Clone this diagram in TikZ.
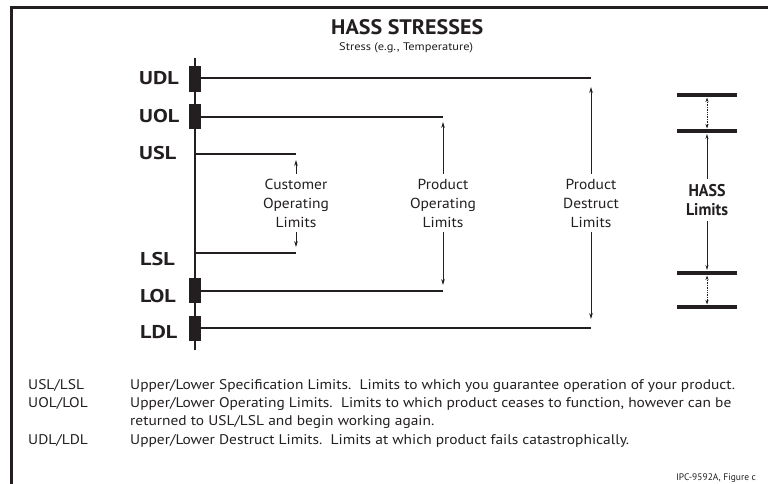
\documentclass[tikz,border=0pt]{standalone}
\usepackage{fontspec}
\usepackage{graphicx}
\setmainfont{PT Sans}
\usetikzlibrary{arrows.meta}
\definecolor{ink}{HTML}{231F20}
\newlength\fitlen
\newcommand\hsc[2]{\scalebox{#1}[1]{#2}}
\newcommand\titlefont{\bfseries\fontsize{21}{24}\selectfont}
\newcommand\subfont{\fontsize{11}{13}\selectfont}
\newcommand\footfont{\fontsize{14}{17}\selectfont}
\newcommand\midfont{\fontsize{14.5}{19}\selectfont}
\newcommand\sidefont{\bfseries\fontsize{18.5}{20}\selectfont}
\newcommand\hassfont{\bfseries\fontsize{17}{19}\selectfont}
\newcommand\measurefac[3]{\settowidth\fitlen{#3}\pgfmathsetmacro#1{#2/\fitlen}\global\let#1#1}
\begin{document}
\measurefac{\titfac}{152}{\titlefont HASS STRESSES}%
\measurefac{\subfac}{134}{\subfont Stress (e.g., Temperature)}%
\measurefac{\footfac}{605}{\footfont Upper/Lower Specification Limits.\ \ Limits to which you guarantee operation of your product.}%
\measurefac{\midfac}{66}{\midfont Operating}%
\measurefac{\sidefac}{37}{\sidefont LDL}%
\measurefac{\hassfac}{42}{\hassfont Limits}%
\begin{tikzpicture}[x=1pt,y=-1pt,
  every node/.style={text=ink, inner sep=0pt},
  frameline/.style={draw=ink, line width=3pt},
  axisline/.style={draw=ink, line width=2.6pt},
  limitline/.style={draw=ink, line width=2.6pt},
  blockbox/.style={fill=ink, draw=none, minimum width=12pt, minimum height=25pt},
  sidelabel/.style={font=\sidefont, anchor=base west},
  midlabel/.style={font=\midfont, align=center, inner ysep=5pt},
  hasslabel/.style={font=\hassfont, align=center, inner ysep=5pt},
  thinarrow/.style={draw=ink, line width=0.9pt, -{Stealth[length=6pt,width=3.6pt]}},
  hassarrow/.style={draw=ink, line width=0.7pt, -{Stealth[length=5pt,width=3pt]}},
  dotarrow/.style={draw=ink, line width=0.7pt, densely dotted, {Stealth[length=4.5pt,width=3pt]}-{Stealth[length=4.5pt,width=3pt]}},
  hassbar/.style={draw=ink, line width=3.5pt},
  foot/.style={font=\footfont, anchor=base west}]
\useasboundingbox (0,0) rectangle (768,483);
\fill[white] (0,0) rectangle (768,483);

% frame
\coordinate (fTL) at (11.3,7.7);
\coordinate (fTR) at (770,7.7);
\coordinate (fBL) at (11.3,486);
\draw[frameline] (fBL) -- (fTL) -- (fTR);

% title
\node[font=\titlefont, anchor=base west] (title) at (331,34) {\hsc{\titfac}{HASS STRESSES}};
\node[font=\subfont, anchor=base west] (subtitle) at (339,50) {\hsc{\subfac}{Stress (e.g., Temperature)}};

% axis
\coordinate (axTop) at (195,58);
\coordinate (axBot) at (195,350);
\draw[axisline] (axTop) -- (axBot);

% blocks
\node[blockbox, minimum height=26pt] (bUDL) at (195,79) {};
\node[blockbox] (bUOL) at (195,116.5) {};
\node[blockbox] (bLOL) at (195,290.5) {};
\node[blockbox] (bLDL) at (195,328.5) {};

% line ends
\coordinate (udlE) at (591,78);
\coordinate (uolE) at (443,117);
\coordinate (uslS) at (195,154);
\coordinate (uslE) at (296,154);
\coordinate (lslS) at (195,253);
\coordinate (lslE) at (296,253);
\coordinate (lolE) at (443,291);
\coordinate (ldlE) at (591,328);

\draw[limitline] (bUDL.east |- udlE) -- (udlE);
\draw[limitline] (bUOL.east |- uolE) -- (uolE);
\draw[limitline] (uslS) -- (uslE);
\draw[limitline] (lslS) -- (lslE);
\draw[limitline] (bLOL.east |- lolE) -- (lolE);
\draw[limitline] (bLDL.east |- ldlE) -- (ldlE);

% side labels
\node[sidelabel] (tUDL) at (139,84) {\hsc{\sidefac}{UDL}};
\node[sidelabel] (tUOL) at (139,122) {\hsc{\sidefac}{UOL}};
\node[sidelabel] (tUSL) at (139,159) {\hsc{\sidefac}{USL}};
\node[sidelabel] (tLSL) at (140,265) {\hsc{\sidefac}{LSL}};
\node[sidelabel] (tLOL) at (140,302) {\hsc{\sidefac}{LOL}};
\node[sidelabel] (tLDL) at (140,338) {\hsc{\sidefac}{LDL}};

% middle labels
\node[midlabel] (cust) at (296,203) {\hsc{\midfac}{Customer}\\\hsc{\midfac}{Operating}\\\hsc{\midfac}{Limits}};
\node[midlabel] (pop) at (443,203) {\hsc{\midfac}{Product}\\\hsc{\midfac}{Operating}\\\hsc{\midfac}{Limits}};
\node[midlabel] (pdl) at (591,203) {\hsc{\midfac}{Product}\\\hsc{\midfac}{Destruct}\\\hsc{\midfac}{Limits}};

\draw[thinarrow] (cust.north) -- ([yshift=-6pt]uslE);
\draw[thinarrow] (cust.south) -- ([yshift=6pt]lslE);
\draw[thinarrow] (pop.north) -- ([yshift=-5pt]uolE);
\draw[thinarrow] (pop.south) -- ([yshift=6pt]lolE);
\draw[thinarrow] (pdl.north) -- ([yshift=-9pt]udlE);
\draw[thinarrow] (pdl.south) -- ([yshift=9pt]ldlE);

% HASS limits
\coordinate (h1L) at (677,95);  \coordinate (h1R) at (737,95);
\coordinate (h2L) at (677,131); \coordinate (h2R) at (737,131);
\coordinate (h3L) at (677,273); \coordinate (h3R) at (737,273);
\coordinate (h4L) at (677,307); \coordinate (h4R) at (737,307);
\draw[hassbar] (h1L) -- (h1R);
\draw[hassbar] (h2L) -- (h2R);
\draw[hassbar] (h3L) -- (h3R);
\draw[hassbar] (h4L) -- (h4R);
\node[hasslabel] (hass) at (707,200) {\hsc{\hassfac}{HASS}\\\hsc{\hassfac}{Limits}};
\coordinate (h1) at (707,97.5);
\coordinate (h2t) at (707,128.5);
\coordinate (h2b) at (707,134);
\coordinate (h3t) at (707,270);
\coordinate (h3b) at (707,275.5);
\coordinate (h4) at (707,304.5);
\draw[dotarrow] (h1) -- (h2t);
\draw[dotarrow] (h3b) -- (h4);
\draw[hassarrow] (hass.north) -- (h2b);
\draw[hassarrow] (hass.south) -- (h3t);

% footer
\node[foot] (k1) at (28,389) {\hsc{\footfac}{USL/LSL}};
\node[foot] (d1) at (130,389) {\hsc{\footfac}{Upper/Lower Specification Limits.\ \ Limits to which you guarantee operation of your product.}};
\node[foot] (k2) at (28,407) {\hsc{\footfac}{UOL/LOL}};
\node[foot] (d2) at (130,407) {\hsc{\footfac}{Upper/Lower Operating Limits.\ \ Limits to which product ceases to function, however can be}};
\node[foot] (d3) at (130,425) {\hsc{\footfac}{returned to USL/LSL and begin working again.}};
\node[foot] (k3) at (28,444) {\hsc{\footfac}{UDL/LDL}};
\node[foot] (d4) at (130,444) {\hsc{\footfac}{Upper/Lower Destruct Limits.\ \ Limits at which product fails catastrophically.}};
\node[font=\fontsize{9.5}{11}\selectfont, anchor=base west] (src) at (676,480) {IPC-9592A, Figure c};
\end{tikzpicture}
\end{document}
